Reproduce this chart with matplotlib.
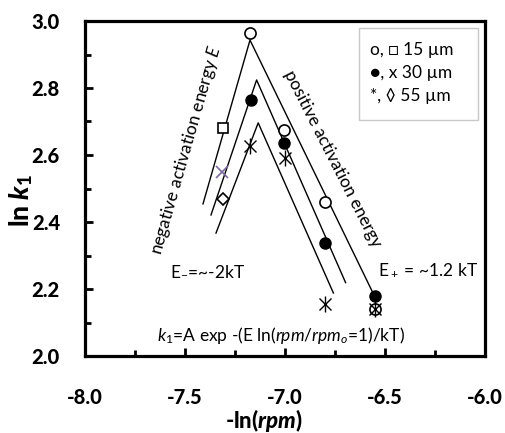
import matplotlib
matplotlib.use("Agg")
import matplotlib.pyplot as plt
from matplotlib.ticker import MultipleLocator
from matplotlib.patches import Rectangle

plt.rcParams['font.family'] = ['Lato', 'DejaVu Sans']
plt.rcParams['mathtext.fontset'] = 'custom'
plt.rcParams['mathtext.rm'] = 'Lato'
plt.rcParams['mathtext.it'] = 'Lato:italic'
plt.rcParams['mathtext.bf'] = 'Lato:black'
plt.rcParams['mathtext.bfit'] = 'Lato:black:italic'
plt.rcParams['xtick.major.pad'] = 23
plt.rcParams['ytick.major.pad'] = 18

# ---- data ----
# 15 um
circ_x = [-7.175, -7.005, -6.80, -6.55]
circ_y = [2.964, 2.675, 2.46, 2.14]
sq_x = [-7.31]
sq_y = [2.68]
# 30 um
fcirc_x = [-7.17, -7.005, -6.80, -6.55]
fcirc_y = [2.765, 2.635, 2.337, 2.178]
xm_x = [-7.315]
xm_y = [2.55]
# 55 um
star_x = [-7.175, -7.00, -6.80, -6.55]
star_y = [2.627, 2.592, 2.155, 2.14]
dia_x = [-7.31]
dia_y = [2.47]

# fitted inverted-V lines (vertices)
fit1_x = [-7.41, -7.175, -6.56]
fit1_y = [2.454, 2.943, 2.188]
fit2_x = [-7.37, -7.142, -6.697]
fit2_y = [2.421, 2.824, 2.219]
fit3_x = [-7.345, -7.134, -6.758]
fit3_y = [2.367, 2.696, 2.188]

xticks = [-8.0, -7.5, -7.0, -6.5, -6.0]
yticks = [2.0, 2.2, 2.4, 2.6, 2.8, 3.0]
legend_labels = ['o, \u25a1 15 \u00b5m', '\u25cf, x 30 \u00b5m', '*, \u25ca 55 \u00b5m']

fig = plt.figure(figsize=(5.06, 4.33), dpi=100)
ax = fig.add_axes([85/506, 1-356/433, 400/506, 335/433])

for fx, fy in [(fit1_x, fit1_y), (fit2_x, fit2_y), (fit3_x, fit3_y)]:
    ax.plot(fx, fy, color='black', lw=1.0, zorder=2)

ax.plot(circ_x, circ_y, 'o', ms=8, mfc='white', mec='black', mew=1.2, zorder=3)
ax.plot(sq_x, sq_y, 's', ms=7.5, mfc='white', mec='black', mew=1.2, zorder=3)
ax.plot(fcirc_x, fcirc_y, 'o', ms=8, mfc='black', mec='black', zorder=4)
ax.plot(xm_x, xm_y, 'x', ms=9, color='#7b6a9e', mew=1.2, zorder=3)
ax.plot(star_x, star_y, 'x', ms=9, color='black', mew=1.0, zorder=4)
ax.plot(star_x, star_y, '|', ms=11, color='black', mew=1.0, zorder=4)
ax.plot(dia_x, dia_y, 'D', ms=6.5, mfc='white', mec='black', mew=1.2, zorder=3)

ax.set_xlim(-8.0, -6.0)
ax.set_ylim(2.0, 3.0)
ax.set_xticks(xticks, labels=[f'{v:.1f}' for v in xticks], fontsize=14.5, fontweight='black')
ax.set_yticks(yticks, labels=[f'{v:.1f}' for v in yticks], fontsize=14.5, fontweight='black')
ax.xaxis.set_minor_locator(MultipleLocator(0.25))
ax.yaxis.set_minor_locator(MultipleLocator(0.1))
ax.tick_params(which='both', direction='in', width=2, top=False, right=False)
ax.tick_params(which='major', length=6)
ax.tick_params(which='minor', length=4)
for sp in ax.spines.values():
    sp.set_linewidth(2.3)

ax.set_xlabel(r'-ln($\mathbfit{rpm}$)', fontsize=16, fontweight='black', va='center')
ax.xaxis.set_label_coords((264 - 85) / 400, (356 - 420) / 335)
ax.set_ylabel(r'ln $\mathbfit{k}_\mathbf{1}$', fontsize=19, fontweight='black')
ax.yaxis.set_label_coords((35 - 85) / 400, (356 - 200) / 335)

# legend box
for lbl, fy in zip(legend_labels, [0.913, 0.846, 0.776]):
    ax.text(0.713, fy, lbl, transform=ax.transAxes, fontsize=12.5,
            va='center', family=['Lato', 'DejaVu Sans'])
ax.add_patch(Rectangle((274/400, 1-(120-21)/335), (478-359)/400, (120-28)/335,
                       transform=ax.transAxes, fill=False, ec='#c8c8c8', lw=1.0))

ax.text(-7.495, 2.615, r'negative activation energy $E$', rotation=74, fontsize=12.5,
        ha='center', va='center', rotation_mode='anchor')
ax.text(-6.76, 2.59, 'positive activation energy', rotation=-63, fontsize=12.5,
        ha='center', va='center', rotation_mode='anchor')
ax.text(-7.575, 2.255, r'E$_{-}$=~-2kT', fontsize=12.5, ha='left', va='center')
ax.text(-6.535, 2.255, r'E$_+$ = ~1.2 kT', fontsize=12.5, ha='left', va='center')
ax.text(-7.64, 2.06, r'$k_1$=A exp -(E ln($rpm$/$rpm_o$=1)/kT)', fontsize=12.5,
        ha='left', va='center')

fig.savefig('out.png', dpi=100)
